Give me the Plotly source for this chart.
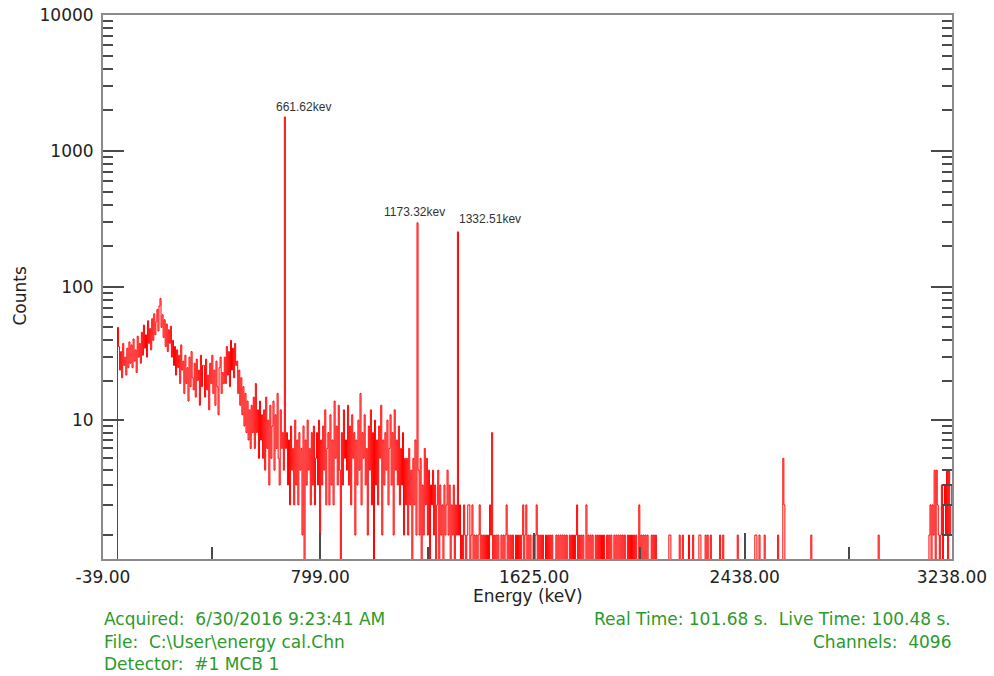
import numpy as np
import plotly.graph_objects as go

# ---- spectrum: counts per 4 keV bin, starting at -39 keV ----
bin_start_kev = -39.0
bin_width_kev = 4.0

counts = [
    # -39 .. 21 keV: below threshold, then edge spike
    0, 0, 0, 0, 0, 0, 0, 0, 0, 0, 0, 0, 0, 0, 50,
    # 21 .. 69
    36, 24, 33, 21, 38, 26, 30, 22, 35, 25, 39, 27,
    # 69 .. 109
    37, 25, 41, 28, 34, 23, 43, 30, 38, 27,
    # 109 .. 149
    46, 31, 52, 35, 44, 30, 56, 38, 49, 34,
    # 149 .. 189 (backscatter bump)
    58, 40, 63, 44, 55, 68, 47, 72, 82, 50,
    # 189 .. 229
    62, 42, 57, 36, 53, 33, 48, 38, 51, 30,
    # 229 .. 269
    40, 26, 36, 22, 34, 25, 31, 19, 37, 24,
    # 269 .. 349
    28, 16, 31, 19, 25, 14, 30, 18, 33, 21, 17, 27, 15, 29, 20, 24, 13, 31, 18, 26,
    # 349 .. 429
    26, 15, 29, 17, 22, 12, 27, 19, 31, 16, 24, 13, 28, 18, 11, 25, 30, 16, 23, 19,
    # 429 .. 477 (Compton edge)
    30, 19, 36, 22, 33, 18, 40, 24, 35, 21, 38, 26,
    # 477 .. 541
    28, 16, 24, 13, 21, 11, 18, 9, 16, 8, 14, 7, 12, 6, 13, 8,
    # 541 .. 581
    15, 6, 19, 8, 12, 5, 14, 7, 11, 5,
    # 581 .. 653
    12, 4, 15, 6, 10, 3, 13, 5, 9, 14, 4, 11, 6, 16, 5, 3, 12, 6,
    # 653 .. 669 (Cs-137 photopeak)
    8, 4, 1780, 6,
    # 669 .. 901
    8, 3, 7, 2, 9, 4, 6, 2, 10, 3,
    7, 2, 8, 4, 6, 1, 9, 0, 7, 3,
    10, 4, 6, 2, 8, 3, 9, 2, 5, 8,
    3, 10, 1, 7, 3, 9, 4, 12, 2, 6,
    8, 2, 11, 3, 7, 2, 14, 5, 9, 3,
    13, 4, 0, 8, 3, 12, 5, 7,
    # 901 .. 1133
    4, 13, 3, 9, 2, 11, 5, 8, 1, 7,
    3, 10, 4, 16, 2, 8, 5, 11, 3, 6,
    1, 9, 4, 12, 2, 8, 0, 10, 3, 7,
    2, 9, 5, 13, 1, 7, 3, 8, 4, 10,
    2, 6, 11, 3, 8, 1, 12, 4, 7, 3,
    9, 2, 6, 3, 8, 1, 5, 2,
    # 1133 .. 1173
    5, 1, 6, 2, 4, 0, 5, 2, 7, 1,
    # 1173 .. 1177 (Co-60)
    296,
    # 1177 .. 1209
    4, 1, 5, 0, 3, 1, 6, 2,
    # 1209 .. 1329
    5, 1, 4, 0, 3, 2, 4, 1, 3, 0,
    2, 4, 0, 3, 1, 2, 0, 3, 1, 2,
    4, 1, 3, 0, 2, 1, 3, 0, 2, 1,
    # 1329 .. 1333 (Co-60)
    254,
    # 1333 .. 1401
    1, 2, 0, 1, 0, 2, 1, 0, 1, 2, 2, 0, 1, 2, 0, 1, 0,
    # 1401 .. 2097
    1, 0, 1, 2, 0, 1, 0, 1, 0, 1,
    0, 1, 0, 2, 1, 8, 0, 1, 0, 1,
    0, 1, 0, 0, 1, 0, 1, 0, 1, 2,
    0, 1, 0, 1, 0, 1, 0, 0, 1, 0,
    1, 0, 1, 0, 1, 2, 0, 1, 2, 0,
    1, 0, 1, 0, 0, 1, 0, 1, 2, 0,
    1, 0, 1, 0, 1, 0, 0, 1, 0, 1,
    0, 1, 0, 1, 0, 0, 0, 1, 0, 1,
    0, 1, 0, 1, 0, 1, 0, 1, 0, 0,
    1, 0, 1, 0, 1, 0, 1, 2, 0, 1,
    0, 1, 0, 1, 0, 0, 2, 0, 1, 0,
    1, 0, 1, 0, 0, 1, 0, 1, 0, 1,
    0, 1, 0, 1, 0, 0, 1, 0, 1, 0,
    1, 0, 0, 1, 0, 1, 0, 1, 0, 1,
    0, 1, 0, 1, 0, 0, 1, 0, 1, 0,
    1, 0, 1, 0, 1, 0, 0, 2, 0, 1,
    0, 1, 0, 1, 0, 1, 0, 0, 0, 1,
    0, 1, 0, 1,
    # 2097 .. 2141
    0, 0, 0, 0, 0, 0, 0, 0, 0, 0, 0,
    # 2141 .. 2585
    0, 1, 1, 0, 0, 0, 0, 0, 0, 0,
    0, 1, 0, 0, 1, 0, 0, 0, 0, 0,
    1, 0, 0, 0, 1, 0, 0, 0, 0, 0,
    1, 1, 0, 0, 0, 0, 1, 0, 1, 0,
    0, 1, 0, 0, 0, 0, 0, 0, 0, 0,
    1, 0, 0, 1, 0, 0, 0, 0, 0, 0,
    0, 0, 0, 0, 0, 0, 0, 1, 0, 0,
    0, 0, 0, 0, 0, 0, 0, 0, 0, 0,
    0, 0, 0, 0, 1, 1, 0, 0, 1, 0,
    0, 0, 0, 1, 0, 0, 0, 0, 0, 0,
    0, 0, 0, 0, 0, 0, 1, 0, 0, 0,
    0,
    # 2585 .. 2593
    5, 2,
    # 2593 .. 3149
    0, 0, 0, 0, 0, 0, 0, 0, 0, 0,
    0, 0, 0, 0, 0, 0, 0, 0, 0, 0,
    0, 0, 0, 0, 0, 1, 0, 0, 0, 0,
    0, 0, 0, 0, 0, 0, 0, 0, 0, 0,
    0, 0, 0, 0, 0, 0, 0, 0, 0, 0,
    0, 0, 0, 0, 0, 0, 0, 0, 0, 0,
    0, 0, 0, 0, 0, 0, 0, 0, 0, 0,
    0, 0, 0, 0, 0, 0, 0, 0, 0, 0,
    0, 0, 0, 0, 0, 0, 0, 0, 0, 0,
    1, 0, 0, 0, 0, 0, 0, 0, 0, 0,
    0, 0, 0, 0, 0, 0, 0, 0, 0, 0,
    0, 0, 0, 0, 0, 0, 0, 0, 0, 0,
    0, 0, 0, 0, 0, 0, 0, 0, 0, 0,
    0, 0, 0, 0, 0, 0, 0, 0, 0,
    # 3149 .. 3241 (top-of-range pile-up)
    1, 2, 0, 2, 1, 4, 0, 4, 2, 1, 0, 1, 3, 0, 2, 3, 1, 4, 0, 4, 1, 2, 3,
]

# labelled photopeaks (keV)
peak_energies_kev = [661.62, 1173.32, 1332.51]

# axis ticks
x_tick_kev = [-39.0, 799.0, 1625.0, 2438.0, 3238.0]
x_minor_kev = [382.0, 1214.0, 2033.0, 2840.0]
x_range_kev = [-39.0, 3238.0]
y_tick_counts = [10, 100, 1000, 10000]

# acquisition info
info_left = [
    "Acquired:  6/30/2016 9:23:41 AM",
    "File:  C:\\User\\energy cal.Chn",
    "Detector:  #1 MCB 1",
]
info_right = [
    "Real Time: 101.68 s.  Live Time: 100.48 s.",
    "Channels:  4096",
]

# counts are drawn as log10(counts + 0.5) so empty channels stay finite
LOG_OFFSET = 0.5
y_plot = np.asarray(counts, dtype=float) + LOG_OFFSET

FONT = "DejaVu Sans"
AXIS_GREY = "#8a8a8a"
TICK_GREY = "#4a4a4a"
TEXT_DARK = "#222222"
INFO_GREEN = "#2b9a2b"


def keep_spaces(s):
    return s.replace("  ", "\u00a0 ")


fig = go.Figure()
fig.add_trace(go.Scatter(
    x0=bin_start_kev, dx=bin_width_kev, y=y_plot,
    mode="lines",
    line=dict(color="#ff0000", width=1, shape="hv", simplify=False),
    hoverinfo="skip",
    showlegend=False,
))

# peak labels, placed from the peak bins
label_style = [
    dict(xanchor="left", xshift=-11, yshift=1),
    dict(xanchor="center", xshift=-3, yshift=2),
    dict(xanchor="left", xshift=-1, yshift=4),
]
annotations = []
for e_kev, sty in zip(peak_energies_kev, label_style):
    idx = int((e_kev - bin_start_kev) // bin_width_kev)
    annotations.append(dict(
        x=e_kev, y=np.log10(counts[idx] + LOG_OFFSET),
        xref="x", yref="y",
        text=f"{e_kev:.2f}kev", showarrow=False,
        yanchor="bottom",
        font=dict(family="Liberation Sans", size=12, color="#333333"),
        **sty,
    ))

# plot area in pixels: x 103..952, y 15..559
PW, PH = 849.0, 544.0


def px_x(px):
    return (px - 103.0) / PW


def px_y(py):
    return (559.0 - py) / PH


annotations.append(dict(
    x=px_x(19.5), y=px_y(296), xref="paper", yref="paper",
    text="Counts", textangle=-90, showarrow=False,
    xanchor="center", yanchor="middle",
    font=dict(family=FONT, size=17, color=TEXT_DARK),
))
annotations.append(dict(
    x=px_x(527.5), y=px_y(596), xref="paper", yref="paper",
    text="Energy (keV)", showarrow=False,
    xanchor="center", yanchor="middle",
    font=dict(family=FONT, size=17, color=TEXT_DARK),
))
for k, line in enumerate(info_left):
    annotations.append(dict(
        x=px_x(102), y=px_y(619 + 22.5 * k), xref="paper", yref="paper",
        text=keep_spaces(line), showarrow=False,
        xanchor="left", yanchor="middle",
        font=dict(family=FONT, size=17, color=INFO_GREEN),
    ))
for k, line in enumerate(info_right):
    annotations.append(dict(
        x=px_x(953), y=px_y(619 + 22.5 * k), xref="paper", yref="paper",
        text=keep_spaces(line), showarrow=False,
        xanchor="right", yanchor="middle",
        font=dict(family=FONT, size=17, color=INFO_GREEN),
    ))

y_major = [v + LOG_OFFSET for v in y_tick_counts]
y_minor = [d * 10 ** p + LOG_OFFSET
           for p in range(4) for d in range(1 if p == 0 else 2, 10)]

fig.update_layout(
    width=994, height=676,
    margin=dict(l=103, r=42, t=15, b=117, pad=0),
    paper_bgcolor="white", plot_bgcolor="white",
    annotations=annotations,
    xaxis=dict(
        range=x_range_kev, automargin=False,
        tickmode="array", tickvals=x_tick_kev,
        ticktext=[f"{v:.2f}" for v in x_tick_kev],
        ticks="inside", ticklen=26, tickwidth=1.5, tickcolor=TICK_GREY,
        minor=dict(tickmode="array", tickvals=x_minor_kev, ticks="inside",
                   ticklen=12, tickwidth=1.5, tickcolor=TICK_GREY, showgrid=False),
        showline=True, linecolor=AXIS_GREY, linewidth=2, mirror=True,
        showgrid=False, zeroline=False,
        tickfont=dict(family=FONT, size=17, color=TEXT_DARK),
        ticklabelstandoff=2,
    ),
    yaxis=dict(
        type="log", range=[0, 4.00003], automargin=False,
        tickmode="array", tickvals=y_major,
        ticktext=[str(v) for v in y_tick_counts],
        ticks="inside", ticklen=21, tickwidth=1.5, tickcolor=TICK_GREY,
        minor=dict(tickmode="array", tickvals=y_minor, ticks="inside",
                   ticklen=10, tickwidth=1.5, tickcolor=TICK_GREY, showgrid=False),
        showline=True, linecolor=AXIS_GREY, linewidth=2, mirror="ticks",
        showgrid=False, zeroline=False,
        tickfont=dict(family=FONT, size=17, color=TEXT_DARK),
        ticklabelstandoff=4,
    ),
)

fig.write_html("out.html")
